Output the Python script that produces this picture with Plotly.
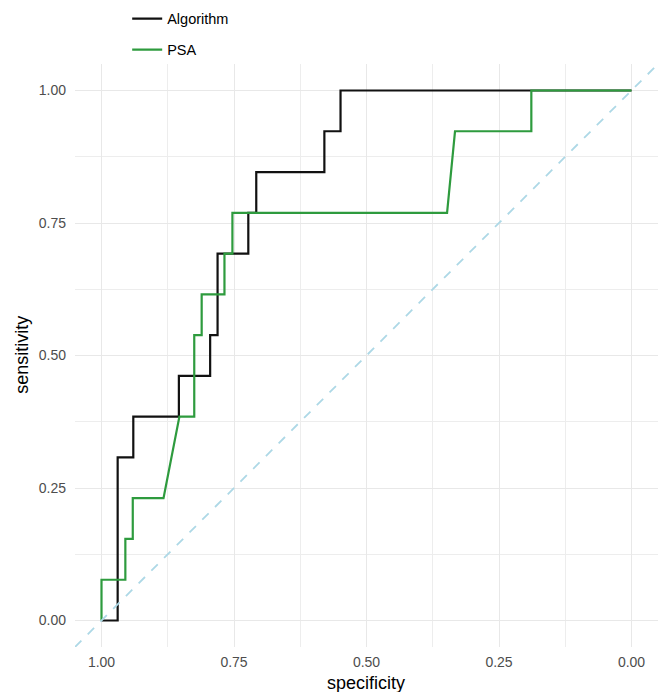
import plotly.graph_objects as go

# ROC curve vertices (specificity, sensitivity)
alg_specificity = [1.000, 0.9695, 0.9695, 0.940, 0.940, 0.854, 0.854, 0.795, 0.795,
                   0.781, 0.781, 0.723, 0.723, 0.708, 0.708, 0.5795, 0.5795, 0.549, 0.549, 0.000]
alg_sensitivity = [0, 0, 4/13, 4/13, 5/13, 5/13, 6/13, 6/13, 7/13,
                   7/13, 9/13, 9/13, 10/13, 10/13, 11/13, 11/13, 12/13, 12/13, 1, 1]

psa_specificity = [1.000, 1.000, 0.955, 0.955, 0.941, 0.941, 0.883, 0.853, 0.825, 0.825,
                   0.811, 0.811, 0.768, 0.768, 0.753, 0.753, 0.348, 0.333, 0.189, 0.189, 0.000]
psa_sensitivity = [0, 1/13, 1/13, 2/13, 2/13, 3/13, 3/13, 5/13, 5/13, 7/13,
                   7/13, 8/13, 8/13, 9/13, 9/13, 10/13, 10/13, 12/13, 12/13, 1, 1]

tick_values = [1.0, 0.75, 0.5, 0.25, 0.0]
tick_labels = ["1.00", "0.75", "0.50", "0.25", "0.00"]
y_tick_values = [0.0, 0.25, 0.5, 0.75, 1.0]
y_tick_labels = ["0.00", "0.25", "0.50", "0.75", "1.00"]

x_title = "specificity"
y_title = "sensitivity"

x_range = [1.05, -0.05]
y_range = [-0.05, 1.05]

FONT = "Liberation Sans, Arial, Helvetica, sans-serif"

fig = go.Figure()
fig.add_trace(go.Scatter(x=alg_specificity, y=alg_sensitivity, mode="lines",
                         name="Algorithm", legendgroup="a",
                         line=dict(color="#111111", width=2.2)))
fig.add_trace(go.Scatter(x=psa_specificity, y=psa_sensitivity, mode="lines",
                         name="PSA", legendgroup="b",
                         line=dict(color="#2E9B3E", width=2.2)))

# diagonal reference line sensitivity = 1 - specificity across the panel
fig.add_shape(type="line", xref="x", yref="y",
              x0=x_range[0], y0=1 - x_range[0], x1=x_range[1], y1=1 - x_range[1],
              line=dict(color="#ADD8E6", width=1.8, dash="dash"), layer="above")

axis_common = dict(
    showline=False, zeroline=False,
    gridcolor="#E8E8E8", gridwidth=1.3,
    minor=dict(showgrid=True, gridcolor="#EDEDED", gridwidth=0.7, dtick=0.125),
    tickfont=dict(family=FONT, size=14, color="#4D4D4D"),
    ticks="",
)

fig.update_xaxes(range=x_range, tickvals=tick_values, ticktext=tick_labels,
                 ticklabelstandoff=5, **axis_common)
fig.update_yaxes(range=y_range, tickvals=y_tick_values, ticktext=y_tick_labels,
                 ticklabelstandoff=8, **axis_common)

fig.add_annotation(text=x_title, xref="paper", yref="paper", x=0.499, y=-0.062,
                   xanchor="center", yanchor="middle", showarrow=False,
                   font=dict(family=FONT, size=18, color="#000000"))
fig.add_annotation(text=y_title, xref="paper", yref="paper", x=-0.091, y=0.501,
                   xanchor="center", yanchor="middle", textangle=-90, showarrow=False,
                   font=dict(family=FONT, size=18, color="#000000"))

fig.update_layout(
    width=659, height=692,
    margin=dict(l=75, r=1, t=64, b=45, autoexpand=False),
    plot_bgcolor="white", paper_bgcolor="white",
    font=dict(family=FONT),
    legend=dict(xref="container", yref="container", x=0.193, y=0.996,
                xanchor="left", yanchor="top", orientation="v",
                tracegroupgap=9, font=dict(family=FONT, size=14.5, color="#000000"),
                bgcolor="rgba(0,0,0,0)"),
)

fig.write_html("out.html", config={"displayModeBar": False},
               post_script="document.body.style.margin='0';")
